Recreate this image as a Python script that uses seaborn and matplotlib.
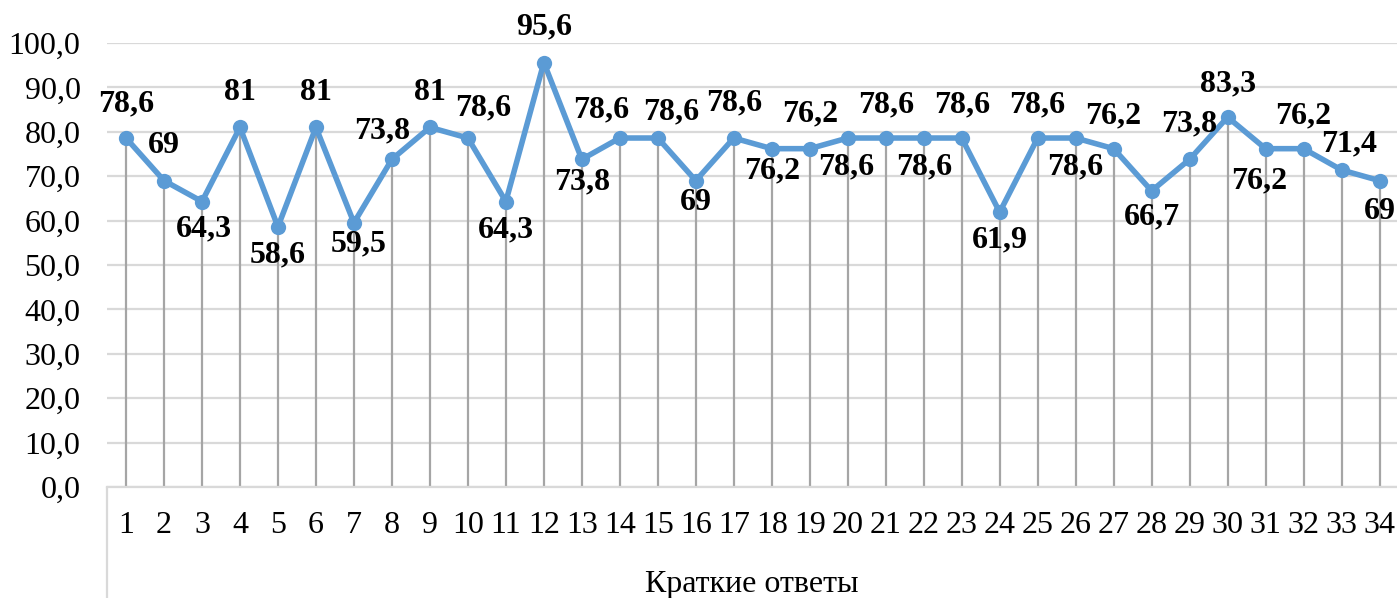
import matplotlib
matplotlib.use("Agg")
import matplotlib.pyplot as plt
import seaborn as sns
import pandas as pd
from matplotlib.lines import Line2D

# data
questions = list(range(1, 35))
scores = [78.6, 69, 64.3, 81, 58.6, 81, 59.5, 73.8, 81, 78.6, 64.3, 95.6,
          73.8, 78.6, 78.6, 69, 78.6, 76.2, 76.2, 78.6, 78.6, 78.6, 78.6, 61.9,
          78.6, 78.6, 76.2, 66.7, 73.8, 83.3, 76.2, 76.2, 71.4, 69]
labels = ["78,6", "69", "64,3", "81", "58,6", "81", "59,5", "73,8", "81", "78,6",
          "64,3", "95,6", "73,8", "78,6", "78,6", "69", "78,6", "76,2", "76,2",
          "78,6", "78,6", "78,6", "78,6", "61,9", "78,6", "78,6", "76,2", "66,7",
          "73,8", "83,3", "76,2", "76,2", "71,4", "69"]
group_label = "Краткие ответы"
yticks = [0, 10, 20, 30, 40, 50, 60, 70, 80, 90, 100]

# label placement in pixels (dx right, dy up) relative to each point
label_dy = [34, 35, -27, 35, -28, 35, -21, 28, 35, 30, -28, 36, -23, 28, 26, -22,
            35, -22, 35, -29, 33, -29, 33, -28, 33, -29, 33, -26, 35, 33, -32, 33,
            26, -31]
label_dx = [0, 0, 2, 0, 0, 0, 5, -10, 0, 15, 0, 0, 0, -19, 13, 0,
            0, 0, 0, -2, 0, 0, 0, 0, 0, 0, 0, 0, 0, 0, -6, 0, 8, 0]

sns.set_style("white")
plt.rcParams['font.family'] = ['Liberation Serif', 'DejaVu Serif']
plt.rcParams['text.color'] = 'black'
plt.rcParams['xtick.color'] = 'black'
plt.rcParams['ytick.color'] = 'black'

df = pd.DataFrame({"q": [str(q) for q in questions], "score": scores})

fig = plt.figure(figsize=(13.97, 5.98), dpi=100)
ax = fig.add_axes([0.0766, 0.1856, 0.9245, 0.7425])

# drop lines
ax.vlines(range(len(scores)), 0, scores, color="#A5A5A5", lw=1.6, zorder=1)
sns.lineplot(data=df, x="q", y="score", ax=ax, color="#5B9BD5", lw=4,
             marker="o", markersize=11, markeredgewidth=0, sort=False, zorder=3)

for i, (v, t) in enumerate(zip(scores, labels)):
    ax.annotate(t, (i, v), xytext=(label_dx[i] * 0.72, label_dy[i] * 0.72),
                textcoords="offset points", ha="center", va="center",
                fontsize=23, fontweight="bold", color="black", zorder=4)

ax.set_xlim(-0.5, len(scores) - 0.5)
ax.set_ylim(0, 100)
ax.set_yticks(yticks)
ax.set_yticklabels([f"{y:.1f}".replace(".", ",") for y in yticks])
ax.grid(axis="y", color="#D9D9D9", lw=1.6)
ax.set_axisbelow(True)
for s in ["top", "right", "left"]:
    ax.spines[s].set_visible(False)
ax.spines["bottom"].set_color("#D9D9D9")
ax.spines["bottom"].set_linewidth(1.6)
ax.tick_params(axis="both", length=0, labelsize=23, labelcolor="black")
ax.tick_params(axis="x", pad=17)
ax.tick_params(axis="y", pad=19)
ax.set_xlabel("")
ax.set_ylabel("")

# group box
fig.add_artist(Line2D([0.0766, 0.0766], [0.0, 0.1856], color="#D9D9D9", lw=1.6))
fig.text(0.538, 0.022, group_label, ha="center", va="center", fontsize=23,
         color="black")

fig.savefig("out.png", dpi=100)
